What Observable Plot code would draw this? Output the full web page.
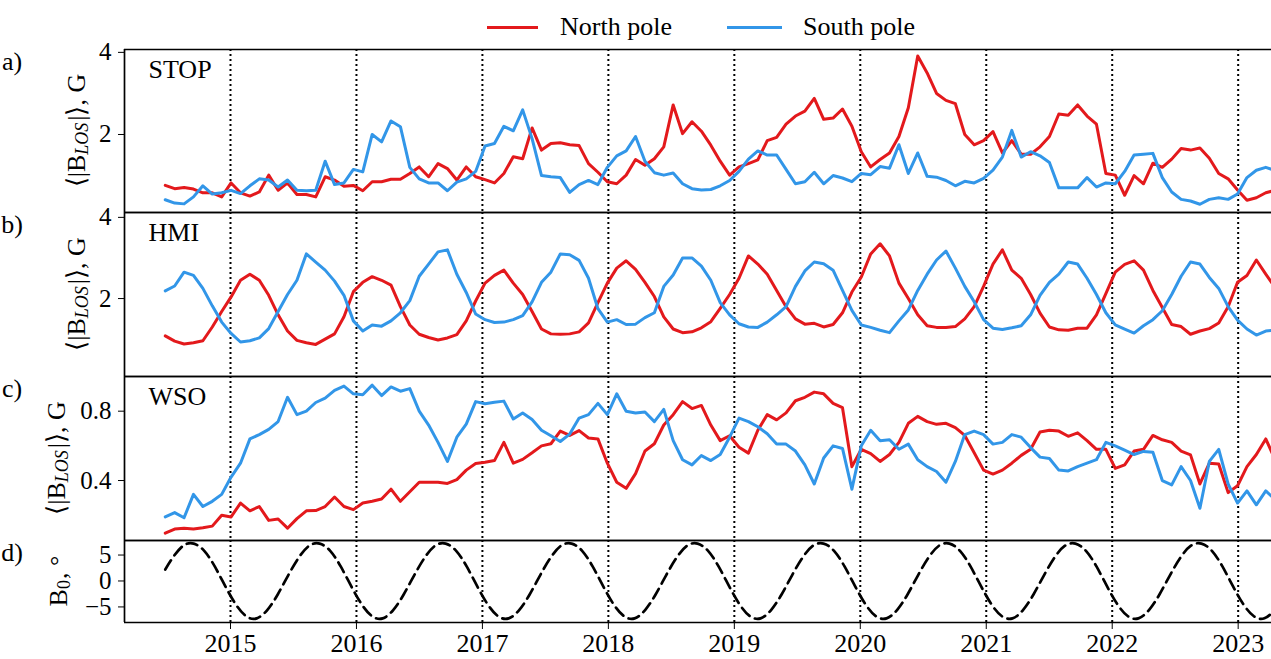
<!DOCTYPE html>
<html>
<head>
<meta charset="utf-8">
<script src="https://cdn.jsdelivr.net/npm/d3@7"></script>
<script src="https://cdn.jsdelivr.net/npm/@observablehq/plot@0.6"></script>
<style>
  html, body { margin: 0; padding: 0; background: #fff; }
  #wrap { position: relative; width: 1271px; height: 659px; overflow: hidden; background: #fff;
          font-family: "Liberation Serif", "Times New Roman", serif; color: #000; }
  .panel { position: absolute; left: 0; }
  .sw { position: absolute; height: 3px; top: 25.5px; }
  .lt { position: absolute; top: 14px; font-size: 26px; line-height: 26px; white-space: nowrap; }
</style>
</head>
<body>
<div id="wrap">
  <div class="sw" id="swN" style="left:487px;width:51px;"></div>
  <div class="lt" style="left:560px;">North pole</div>
  <div class="sw" id="swS" style="left:727px;width:55px;"></div>
  <div class="lt" style="left:803px;">South pole</div>
</div>
<script>
// ---------- data (one value per Carrington rotation, starting mid-2014) ----------
const firstRotation = 2014.482;            // decimal year of first rotation mean
const rotationLength = 27.2753 / 365.25;   // one Carrington rotation in years

const stopNorth = [
  0.76, 0.68, 0.71, 0.67, 0.58, 0.58, 0.48, 0.82, 0.58, 0.50,
  0.60, 1.01, 0.64, 0.82, 0.54, 0.54, 0.48, 0.97, 0.89, 0.74,
  0.76, 0.63, 0.85, 0.85, 0.91, 0.91, 1.05, 1.21, 0.97, 1.29,
  1.17, 0.89, 1.21, 0.97, 0.90, 0.82, 1.05, 1.46, 1.41, 2.16,
  1.62, 1.78, 1.80, 1.75, 1.73, 1.29, 1.08, 0.85, 0.80, 1.01,
  1.39, 1.25, 1.41, 1.70, 2.72, 2.02, 2.31, 2.08, 1.74, 1.35,
  1.01, 1.21, 1.29, 1.38, 1.85, 1.93, 2.25, 2.45, 2.57, 2.88,
  2.37, 2.40, 2.62, 2.20, 1.58, 1.21, 1.39, 1.55, 1.95, 2.65,
  3.91, 3.50, 3.00, 2.83, 2.75, 2.00, 1.75, 1.85, 2.07, 1.55,
  1.85, 1.52, 1.52, 1.70, 1.95, 2.50, 2.47, 2.72, 2.45, 2.25,
  1.05, 1.01, 0.52, 1.00, 0.80, 1.30, 1.20, 1.40, 1.66, 1.62,
  1.67, 1.42, 1.05, 0.92, 0.65, 0.40, 0.46, 0.58, 0.64
];
const stopSouth = [
  0.41, 0.33, 0.31, 0.48, 0.75, 0.55, 0.58, 0.64, 0.56, 0.75,
  0.92, 0.89, 0.72, 0.89, 0.64, 0.63, 0.64, 1.35, 0.78, 0.82,
  1.15, 1.09, 2.00, 1.82, 2.33, 2.19, 1.20, 0.92, 0.82, 0.82,
  0.63, 0.84, 0.92, 1.10, 1.72, 1.78, 2.20, 2.09, 2.60, 1.90,
  1.00, 0.97, 0.95, 0.59, 0.78, 0.88, 0.78, 1.20, 1.48, 1.60,
  1.95, 1.35, 1.07, 1.01, 1.06, 0.80, 0.68, 0.65, 0.66, 0.75,
  0.88, 1.10, 1.40, 1.60, 1.50, 1.50, 1.15, 0.80, 0.85, 1.08,
  0.80, 1.00, 0.94, 0.85, 1.05, 1.02, 1.22, 1.18, 1.75, 1.05,
  1.55, 0.98, 0.96, 0.88, 0.75, 0.86, 0.82, 0.93, 1.13, 1.45,
  2.10, 1.45, 1.58, 1.48, 1.32, 0.70, 0.70, 0.70, 0.95, 0.72,
  0.82, 0.80, 1.10, 1.50, 1.52, 1.54, 0.95, 0.60, 0.42, 0.38,
  0.30, 0.42, 0.46, 0.42, 0.55, 0.95, 1.13, 1.20, 1.12
];
const hmiNorth = [
  1.08, 0.95, 0.88, 0.91, 0.96, 1.30, 1.68, 2.04, 2.45, 2.60,
  2.45, 2.08, 1.60, 1.20, 0.97, 0.91, 0.87, 1.00, 1.13, 1.55,
  2.17, 2.40, 2.54, 2.45, 2.33, 1.80, 1.35, 1.12, 1.04, 0.98,
  1.03, 1.11, 1.45, 1.94, 2.38, 2.57, 2.70, 2.38, 2.10, 1.68,
  1.25, 1.13, 1.12, 1.13, 1.18, 1.40, 1.90, 2.38, 2.75, 2.93,
  2.72, 2.40, 2.05, 1.55, 1.25, 1.16, 1.18, 1.28, 1.43, 1.76,
  2.10, 2.50, 3.05, 2.85, 2.60, 2.20, 1.80, 1.50, 1.37, 1.39,
  1.30, 1.36, 1.65, 2.16, 2.53, 3.10, 3.35, 3.05, 2.38, 2.00,
  1.60, 1.33, 1.29, 1.29, 1.31, 1.50, 1.80, 2.30, 2.85, 3.20,
  2.70, 2.50, 2.10, 1.64, 1.30, 1.23, 1.22, 1.27, 1.27, 1.60,
  2.12, 2.65, 2.84, 2.93, 2.70, 2.20, 1.78, 1.36, 1.31, 1.12,
  1.20, 1.26, 1.40, 1.80, 2.40, 2.57, 2.95, 2.60, 2.27
];
const hmiSouth = [
  2.19, 2.31, 2.65, 2.57, 2.25, 1.82, 1.42, 1.14, 0.93, 0.96,
  1.03, 1.26, 1.68, 2.10, 2.45, 3.10, 2.90, 2.70, 2.43, 2.08,
  1.45, 1.20, 1.35, 1.32, 1.45, 1.65, 1.95, 2.55, 2.85, 3.15,
  3.20, 2.60, 2.15, 1.62, 1.48, 1.41, 1.42, 1.48, 1.58, 1.92,
  2.40, 2.65, 3.10, 3.08, 2.94, 2.50, 1.75, 1.42, 1.48, 1.36,
  1.37, 1.53, 1.65, 2.30, 2.58, 3.00, 3.00, 2.80, 2.45, 1.90,
  1.60, 1.38, 1.30, 1.29, 1.42, 1.60, 1.80, 2.30, 2.68, 2.90,
  2.86, 2.70, 2.20, 1.71, 1.35, 1.29, 1.22, 1.16, 1.45, 1.72,
  2.20, 2.60, 2.95, 3.17, 2.75, 2.30, 1.92, 1.48, 1.27, 1.24,
  1.28, 1.33, 1.60, 2.08, 2.40, 2.60, 2.90, 2.85, 2.50, 2.10,
  1.65, 1.35, 1.25, 1.15, 1.33, 1.48, 1.70, 2.10, 2.55, 2.90,
  2.85, 2.52, 2.25, 1.80, 1.47, 1.25, 1.10, 1.20, 1.22
];
const wsoNorth = [
  0.096, 0.12, 0.125, 0.121, 0.127, 0.137, 0.20, 0.19, 0.27, 0.225,
  0.25, 0.17, 0.178, 0.125, 0.18, 0.225, 0.227, 0.25, 0.305, 0.25,
  0.232, 0.27, 0.28, 0.293, 0.35, 0.28, 0.335, 0.39, 0.39, 0.39,
  0.383, 0.405, 0.46, 0.498, 0.505, 0.515, 0.62, 0.50, 0.522, 0.56,
  0.60, 0.612, 0.685, 0.66, 0.688, 0.645, 0.64, 0.50, 0.39, 0.355,
  0.44, 0.57, 0.612, 0.72, 0.78, 0.855, 0.815, 0.833, 0.72, 0.63,
  0.658, 0.592, 0.558, 0.69, 0.78, 0.75, 0.79, 0.86, 0.88, 0.91,
  0.90, 0.845, 0.82, 0.48, 0.58, 0.555, 0.51, 0.55, 0.62, 0.73,
  0.77, 0.74, 0.724, 0.73, 0.705, 0.66, 0.56, 0.46, 0.437, 0.46,
  0.50, 0.545, 0.58, 0.68, 0.69, 0.685, 0.655, 0.675, 0.63, 0.58,
  0.58, 0.47, 0.49, 0.57, 0.58, 0.66, 0.635, 0.62, 0.57, 0.548,
  0.38, 0.50, 0.495, 0.33, 0.37, 0.48, 0.55, 0.64, 0.52
];
const wsoSouth = [
  0.19, 0.215, 0.185, 0.32, 0.25, 0.28, 0.32, 0.42, 0.50, 0.64,
  0.665, 0.695, 0.74, 0.88, 0.78, 0.80, 0.85, 0.875, 0.92, 0.945,
  0.90, 0.895, 0.95, 0.89, 0.94, 0.915, 0.93, 0.80, 0.72, 0.62,
  0.51, 0.65, 0.725, 0.855, 0.843, 0.852, 0.858, 0.755, 0.79, 0.752,
  0.69, 0.658, 0.625, 0.668, 0.76, 0.78, 0.845, 0.78, 0.90, 0.80,
  0.79, 0.795, 0.74, 0.81, 0.63, 0.52, 0.49, 0.544, 0.515, 0.55,
  0.65, 0.76, 0.74, 0.71, 0.67, 0.61, 0.61, 0.57, 0.49, 0.38,
  0.53, 0.60, 0.585, 0.35, 0.60, 0.69, 0.63, 0.635, 0.58, 0.61,
  0.52, 0.48, 0.452, 0.39, 0.51, 0.665, 0.685, 0.665, 0.61, 0.62,
  0.665, 0.65, 0.59, 0.535, 0.527, 0.46, 0.455, 0.48, 0.50, 0.52,
  0.62, 0.60, 0.575, 0.55, 0.568, 0.563, 0.40, 0.375, 0.48, 0.40,
  0.24, 0.51, 0.58, 0.38, 0.27, 0.34, 0.26, 0.34, 0.29
];

// B0 angle: value at the first rotation, then monthly (mid-month) from July 2014
const b0StartValue = 2.2;
const b0FirstMonth = 2014 + 6.5 / 12;
const b0Values = [
  4.5, 6.8, 7.2, 5.8, 2.8, -1.0,
  -4.5, -6.8, -7.2, -5.6, -2.6, 1.1, 4.5, 6.8, 7.2, 5.8, 2.8, -1.0,
  -4.5, -6.8, -7.2, -5.6, -2.6, 1.1, 4.5, 6.8, 7.2, 5.8, 2.8, -1.0,
  -4.5, -6.8, -7.2, -5.6, -2.6, 1.1, 4.5, 6.8, 7.2, 5.8, 2.8, -1.0,
  -4.5, -6.8, -7.2, -5.6, -2.6, 1.1, 4.5, 6.8, 7.2, 5.8, 2.8, -1.0,
  -4.5, -6.8, -7.2, -5.6, -2.6, 1.1, 4.5, 6.8, 7.2, 5.8, 2.8, -1.0,
  -4.5, -6.8, -7.2, -5.6, -2.6, 1.1, 4.5, 6.8, 7.2, 5.8, 2.8, -1.0,
  -4.5, -6.8, -7.2, -5.6, -2.6, 1.1, 4.5, 6.8, 7.2, 5.8, 2.8, -1.0,
  -4.5, -6.8, -7.2, -5.6, -2.6, 1.1, 4.5, 6.8, 7.2, 5.8, 2.8, -1.0,
  -4.5, -6.8, -7.2, -5.6
];

const years = [2015, 2016, 2017, 2018, 2019, 2020, 2021, 2022, 2023];
const poles = ["North pole", "South pole"];
const poleColors = ["#e3191c", "#3296e8"];

// ---------- layout ----------
const W = 1271, ML = 124;
const xDomain = [2014.1585, 2023.2646];
const FONT = "'Liberation Serif', 'Times New Roman', serif";

document.getElementById("swN").style.background = poleColors[0];
document.getElementById("swS").style.background = poleColors[1];

const times = stopNorth.map((_, i) => firstRotation + i * rotationLength);
const table = (north, south) => times.flatMap((t, i) => [
  {t, v: north[i], pole: poles[0]},
  {t, v: south[i], pole: poles[1]}
]);
const b0Table = [{t: firstRotation, v: b0StartValue},
  ...b0Values.map((v, i) => ({t: b0FirstMonth + i / 12, v}))];

const wrap = document.getElementById("wrap");

function addLabel(svg, x, cy, parts) {
  const t = d3.select(svg).append("text")
    .attr("transform", `translate(${x},${cy}) rotate(-90)`)
    .attr("text-anchor", "middle")
    .attr("dominant-baseline", "central")
    .attr("font-family", FONT)
    .attr("font-size", 26)
    .attr("fill", "black");
  for (const p of parts) {
    const s = t.append("tspan").text(p.text);
    if (p.sub) s.attr("font-size", 18).attr("font-style", p.italic ? "italic" : null).attr("dy", 6);
    if (p.back) s.attr("dy", -6).attr("dx", p.gap || 0);
  }
}

function panel(cfg) {
  const mt = 15;
  const mb = cfg.xAxis ? 37 : 8;
  const h = cfg.frameBottom - cfg.frameTop + mt + mb;
  const marks = [
    Plot.ruleX(years, {stroke: "black", strokeWidth: 2, strokeDasharray: "2,3", clip: true}),
    ...cfg.marks,
    Plot.ruleY(cfg.yDomain, {stroke: "black", strokeWidth: 1.7}),
    Plot.ruleX([xDomain[0]], {stroke: "black", strokeWidth: 1.7}),
    Plot.axisY({ticks: cfg.yTicks, tickFormat: d3.format(cfg.yFormat), tickSize: 6, tickPadding: 7,
      fontSize: 25, label: null, stroke: "black"})
  ];
  if (cfg.name) {
    marks.push(Plot.text([cfg.name], {frameAnchor: "top-left", dx: 24, dy: 20, textAnchor: "start",
      lineAnchor: "middle", fontSize: 26, fill: "black"}));
  }
  if (cfg.xAxis) {
    marks.push(Plot.axisX({ticks: years, tickFormat: d => String(d), tickSize: 7, tickPadding: 4,
      fontSize: 26, label: null, stroke: "black"}));
  }
  const plot = Plot.plot({
    width: W, height: h,
    marginLeft: ML, marginRight: 0, marginTop: mt, marginBottom: mb,
    x: {domain: xDomain, axis: cfg.xAxis ? undefined : null},
    y: {domain: cfg.yDomain},
    color: {domain: poles, range: poleColors},
    style: {background: "transparent", fontFamily: FONT, fontSize: "25px", color: "black", overflow: "visible"},
    marks
  });
  const top = cfg.frameTop - mt;
  const holder = document.createElement("div");
  holder.className = "panel";
  holder.style.top = top + "px";
  holder.appendChild(plot);
  wrap.appendChild(holder);
  // panel letter
  d3.select(plot).append("text")
    .attr("x", 12).attr("y", mt + 12)
    .attr("dominant-baseline", "central")
    .attr("font-family", FONT).attr("font-size", 26).attr("fill", "black")
    .text(cfg.letter);
  addLabel(plot, cfg.labelX, mt + (cfg.frameBottom - cfg.frameTop) / 2, cfg.label);
}

const bLabel = [
  {text: "⟨|B"},
  {text: "LOS", sub: true, italic: true},
  {text: "|⟩, G", back: true, gap: 2}
];

const lineOpts = {x: "t", y: "v", stroke: "pole", strokeWidth: 3, clip: true, strokeLinejoin: "round"};

panel({
  frameTop: 49, frameBottom: 212, yDomain: [0.1, 4.07], yTicks: [2, 4], yFormat: "d",
  name: "STOP", letter: "a)", labelX: 76, label: bLabel,
  marks: [Plot.line(table(stopNorth, stopSouth), lineOpts)]
});
panel({
  frameTop: 212, frameBottom: 376, yDomain: [0.08, 4.12], yTicks: [2, 4], yFormat: "d",
  name: "HMI", letter: "b)", labelX: 76, label: bLabel,
  marks: [Plot.line(table(hmiNorth, hmiSouth), lineOpts)]
});
panel({
  frameTop: 376, frameBottom: 540, yDomain: [0.054, 1.0], yTicks: [0.4, 0.8], yFormat: ".1f",
  name: "WSO", letter: "c)", labelX: 56, label: bLabel,
  marks: [Plot.line(table(wsoNorth, wsoSouth), lineOpts)]
});
panel({
  frameTop: 540, frameBottom: 622, yDomain: [-8.0, 7.8], yTicks: [-5, 0, 5], yFormat: "d",
  name: null, letter: "d)", labelX: 58, xAxis: true,
  label: [{text: "B"}, {text: "0", sub: true}, {text: ", °", back: true, gap: 1}],
  marks: [Plot.line(b0Table, {x: "t", y: "v", stroke: "black", strokeWidth: 2.7,
    strokeDasharray: "11,6", curve: "natural", clip: true})]
});
</script>
</body>
</html>
